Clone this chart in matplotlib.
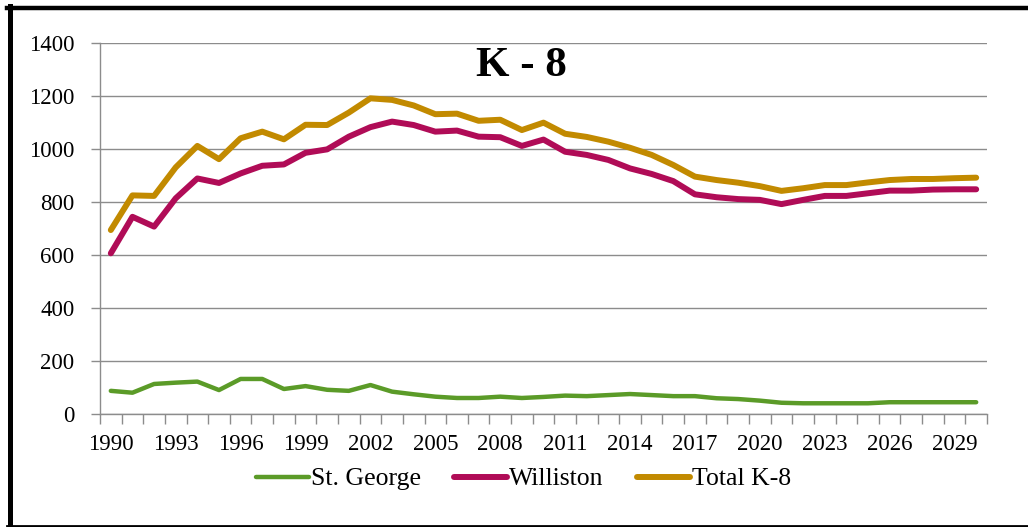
import matplotlib.pyplot as plt
from matplotlib.lines import Line2D

years = list(range(1990, 2031))
st_george = [86, 79, 112, 117, 121, 89, 131, 131, 93, 104,
             90, 86, 108, 83, 73, 64, 59, 59, 64, 59,
             63, 68, 66, 70, 74, 70, 66, 66, 58, 55,
             49, 41, 39, 39, 39, 39, 43, 43, 43, 43, 43]
williston = [606, 744, 707, 814, 889, 872, 908, 937, 942, 986,
             999, 1047, 1083, 1104, 1091, 1066, 1070, 1047, 1045, 1012,
             1036, 990, 978, 959, 927, 906, 879, 829, 818, 811,
             808, 792, 808, 823, 823, 833, 843, 843, 847, 848, 848]
total_k8 = [694, 825, 823, 931, 1012, 962, 1041, 1066, 1037, 1092,
            1091, 1138, 1192, 1186, 1165, 1132, 1134, 1107, 1111, 1072,
            1100, 1058, 1046, 1028, 1005, 978, 940, 896, 883, 873,
            860, 842, 852, 864, 864, 874, 883, 887, 887, 890, 892]
labels = ['St. George', 'Williston', 'Total K-8']
colors = ['#5B9B28', '#B00C57', '#C28A00']

plt.rcParams['font.family'] = ['Liberation Serif', 'DejaVu Serif']

fig = plt.figure(figsize=(10.28, 5.27), dpi=100)
ax = fig.add_axes([100 / 1028, 113.4 / 527, 887 / 1028, 370.3 / 527])

x = list(range(len(years)))
ax.plot(x, st_george, color=colors[0], lw=3.2, solid_capstyle='round', solid_joinstyle='round', label=labels[0])
ax.plot(x, williston, color=colors[1], lw=4.3, solid_capstyle='round', solid_joinstyle='round', label=labels[1])
ax.plot(x, total_k8, color=colors[2], lw=4.3, solid_capstyle='round', solid_joinstyle='round', label=labels[2])

ax.set_xlim(-0.5, len(years) - 0.5)
ax.set_ylim(0, 1400)
ax.set_yticks(range(0, 1401, 200))
ax.grid(axis='y', color='#8C8C8C', lw=1.0)
ax.set_axisbelow(True)
for side in ['top', 'right']:
    ax.spines[side].set_visible(False)
for side in ['left', 'bottom']:
    ax.spines[side].set_color('#8C8C8C')
    ax.spines[side].set_linewidth(1.0)

# ticks at category boundaries, labels every 3 years
ax.set_xticks([i - 0.5 for i in range(len(years) + 1)])
ax.set_xticklabels([])
ax.set_xticks(x[::3], minor=True)
ax.set_xticklabels([str(y) for y in years[::3]], minor=True)
ax.tick_params(axis='x', which='major', length=7, width=1.0, color='#8C8C8C')
ax.tick_params(axis='x', which='minor', length=0, pad=15, labelsize=16.5)
ax.tick_params(axis='y', length=6.5, width=1.0, color='#8C8C8C', pad=12, labelsize=16.5)

fig.text(521 / 1028, 1 - 66 / 527, 'K - 8', ha='center', va='center', fontsize=31, fontweight='bold')

ax.legend(loc='center', bbox_to_anchor=(523.5 / 1028, 1 - 479 / 527), bbox_transform=fig.transFigure,
          ncol=3, frameon=False, fontsize=18.5, handlelength=2.05, handletextpad=0.08, columnspacing=1.3)

# black frame (top, left, bottom; no right edge)
fig.add_artist(Line2D([7 / 1028, 1.0], [1 - 7.5 / 527, 1 - 7.5 / 527], transform=fig.transFigure, color='black', lw=3.2))
fig.add_artist(Line2D([9.5 / 1028, 9.5 / 1028], [0, 1 - 5.5 / 527], transform=fig.transFigure, color='black', lw=3.6))
fig.add_artist(Line2D([7 / 1028, 1.0], [1.5 / 527, 1.5 / 527], transform=fig.transFigure, color='black', lw=2.0))

fig.savefig('out.png', dpi=100)
